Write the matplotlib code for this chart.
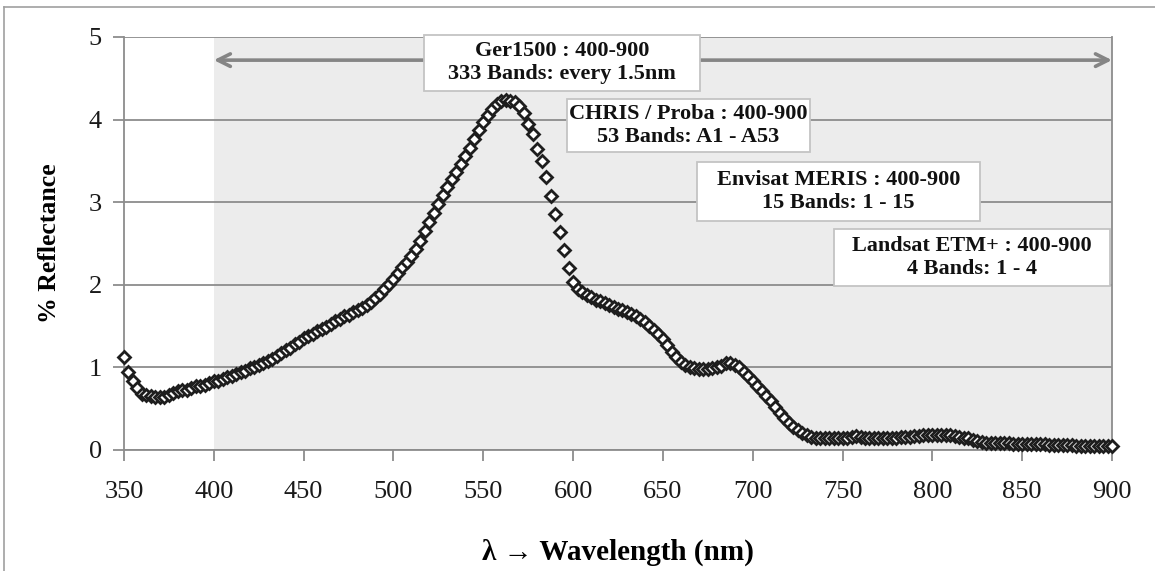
import matplotlib
import numpy as np

matplotlib.use("Agg")
import matplotlib.pyplot as plt
from matplotlib.lines import Line2D
from matplotlib.patches import Rectangle

plt.rcParams["font.family"] = ["Liberation Serif", "DejaVu Serif"]

STEP = 2.5
refl_350_400 = [1.13, 0.95, 0.84, 0.75, 0.68, 0.66, 0.65, 0.64, 0.64, 0.64,
                0.66, 0.69, 0.72, 0.73, 0.73, 0.75, 0.77, 0.78, 0.79, 0.81]
refl_400_450 = [0.83, 0.84, 0.86, 0.88, 0.90, 0.92, 0.94, 0.96, 0.99, 1.01,
                1.03, 1.05, 1.08, 1.10, 1.14, 1.17, 1.21, 1.24, 1.28, 1.31]
refl_450_500 = [1.35, 1.38, 1.41, 1.44, 1.46, 1.49, 1.53, 1.56, 1.59, 1.62,
                1.64, 1.67, 1.69, 1.72, 1.76, 1.79, 1.84, 1.89, 1.95, 2.01]
refl_500_550 = [2.07, 2.14, 2.21, 2.28, 2.35, 2.43, 2.53, 2.65, 2.76, 2.87,
                2.98, 3.09, 3.18, 3.28, 3.37, 3.46, 3.56, 3.66, 3.77, 3.88]
refl_550_600 = [3.97, 4.06, 4.13, 4.19, 4.22, 4.24, 4.23, 4.21, 4.17, 4.08,
                3.95, 3.82, 3.65, 3.50, 3.30, 3.08, 2.86, 2.64, 2.42, 2.20]
refl_600_650 = [2.03, 1.95, 1.91, 1.88, 1.85, 1.82, 1.80, 1.78, 1.76, 1.73,
                1.71, 1.69, 1.67, 1.65, 1.62, 1.58, 1.55, 1.50, 1.45, 1.40]
refl_650_700 = [1.34, 1.27, 1.19, 1.12, 1.07, 1.03, 1.00, 0.99, 0.98, 0.98,
                0.98, 0.99, 1.00, 1.02, 1.05, 1.05, 1.03, 1.00, 0.95, 0.89]
refl_700_750 = [0.83, 0.77, 0.71, 0.65, 0.59, 0.52, 0.45, 0.39, 0.33, 0.28,
                0.24, 0.20, 0.18, 0.16, 0.15, 0.15, 0.14, 0.14, 0.15, 0.15]
refl_750_800 = [0.15, 0.15, 0.16, 0.17, 0.16, 0.15, 0.14, 0.14, 0.14, 0.15,
                0.15, 0.15, 0.15, 0.16, 0.16, 0.16, 0.17, 0.17, 0.18, 0.18]
refl_800_850 = [0.18, 0.18, 0.18, 0.18, 0.18, 0.17, 0.16, 0.15, 0.14, 0.12,
                0.11, 0.10, 0.09, 0.08, 0.08, 0.08, 0.08, 0.08, 0.07, 0.07]
refl_850_900 = [0.07, 0.07, 0.07, 0.07, 0.07, 0.07, 0.06, 0.06, 0.06, 0.06,
                0.06, 0.06, 0.05, 0.05, 0.05, 0.05, 0.05, 0.05, 0.05, 0.05,
                0.05]

reflectance = np.array(
    refl_350_400 + refl_400_450 + refl_450_500 + refl_500_550 + refl_550_600
    + refl_600_650 + refl_650_700 + refl_700_750 + refl_750_800
    + refl_800_850 + refl_850_900
)
wavelength = 350 + STEP * np.arange(len(reflectance))

X_TICKS = list(range(350, 901, 50))
Y_TICKS = [0, 1, 2, 3, 4, 5]

SENSOR_LABELS = [
    "Ger1500 : 400-900\n333 Bands: every 1.5nm",
    "CHRIS / Proba : 400-900\n53 Bands: A1 - A53",
    "Envisat MERIS : 400-900\n15 Bands: 1 - 15",
    "Landsat ETM+ : 400-900\n4 Bands: 1 - 4",
]
# label box extents in figure pixels: left, top, right, bottom
SENSOR_BOXES = [
    (424, 35, 700, 91),
    (567, 99, 810, 152),
    (697, 162, 980, 221),
    (834, 229, 1110, 286),
]

GRID = "#8c8c8c"
SHADE = "#ececec"

W, H = 1155, 571
fig = plt.figure(figsize=(W / 100, H / 100), dpi=100)
ax = fig.add_axes([124 / W, 1 - 450 / H, (1112 - 124) / W, (450 - 37) / H])

ax.axvspan(400, 900, color=SHADE, zorder=0, lw=0)
ax.set_xlim(350, 900)
ax.set_ylim(0, 5)
ax.set_xticks(X_TICKS)
ax.set_yticks(Y_TICKS)
ax.grid(axis="y", color=GRID, lw=1.3, zorder=1)
ax.set_axisbelow(True)
for side in ("left", "bottom", "right"):
    ax.spines[side].set_color(GRID)
    ax.spines[side].set_linewidth(1.3)
ax.spines["top"].set_visible(False)
ax.tick_params(axis="both", direction="out", length=8, width=1.3, color=GRID,
               labelsize=19, labelcolor="#1a1a1a")
ax.tick_params(axis="x", pad=14)
ax.tick_params(axis="y", pad=8)

ax.plot(wavelength, reflectance, ls="none", marker="D", ms=6.0,
        mfc="white", mec="#1e1e1e", mew=2.0, zorder=3, clip_on=False)

ax.annotate("", xy=(900, 4.72), xytext=(400, 4.72),
            arrowprops=dict(arrowstyle="<->,head_length=0.9,head_width=0.45",
                            color="#858585", lw=2.6, shrinkA=0, shrinkB=0),
            zorder=2)

for label, (x0, y0, x1, y1) in zip(SENSOR_LABELS, SENSOR_BOXES):
    fig.add_artist(Rectangle((x0 / W, 1 - y1 / H), (x1 - x0) / W, (y1 - y0) / H,
                             transform=fig.transFigure, fc="white",
                             ec="#c4c4c4", lw=1.3, zorder=5))
    fig.text((x0 + x1) / 2 / W, 1 - (y0 + y1) / 2 / H, label, ha="center",
             va="center", fontsize=16, fontweight="bold", linespacing=1.2,
             color="#111111", zorder=6)

ax.set_ylabel("% Reflectance", fontsize=18.5, fontweight="bold", labelpad=20)
ax.set_xlabel("\u03bb \u2192 Wavelength (nm)", fontsize=21, fontweight="bold",
              labelpad=26)

# outer chart frame (only top and left edges are visible in the crop)
fig.add_artist(Line2D([4 / W, 4 / W], [0, 1 - 7 / H], color="#a0a0a0", lw=1.2))
fig.add_artist(Line2D([4 / W, 1], [1 - 7 / H, 1 - 7 / H], color="#a0a0a0", lw=1.2))

fig.savefig("out.png", dpi=100)
